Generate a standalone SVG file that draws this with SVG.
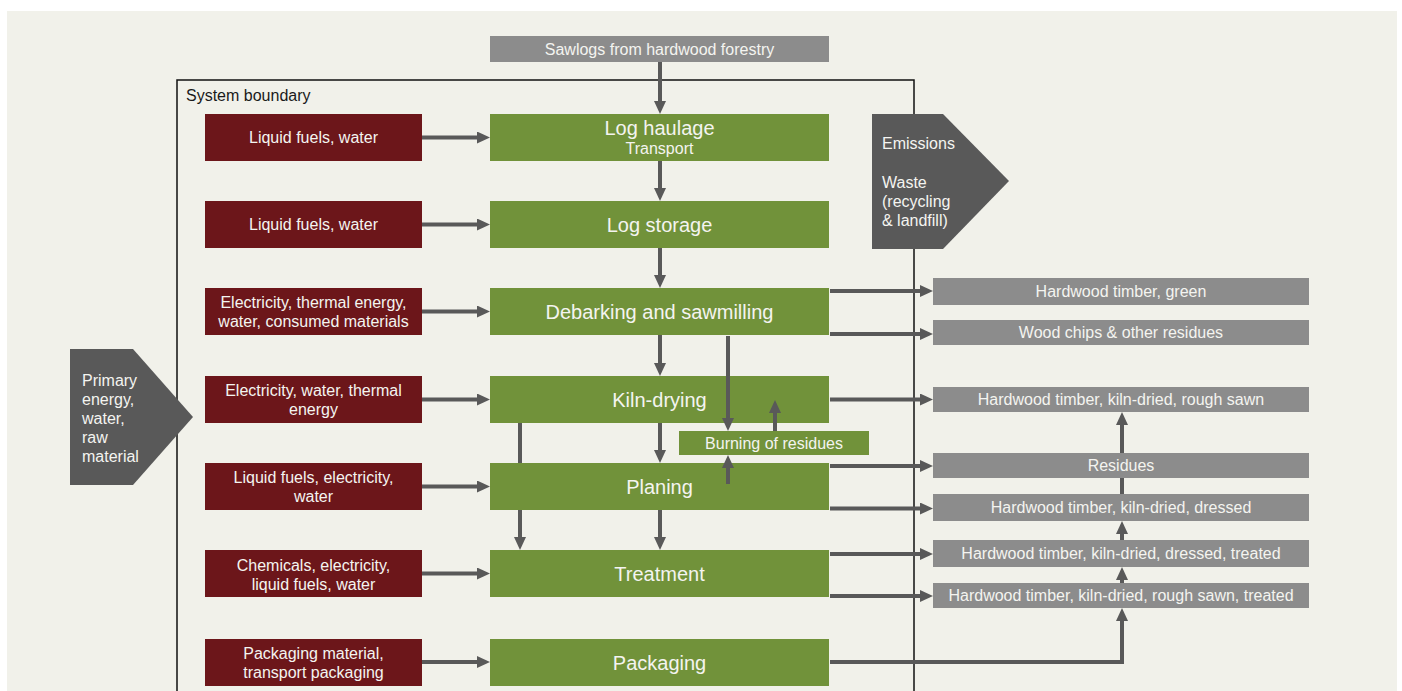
<svg xmlns="http://www.w3.org/2000/svg" width="1402" height="691" viewBox="0 0 1402 691">
<defs>
<style>
text{font-family:"Liberation Sans",Arial,sans-serif;fill:#f4f4f0;text-anchor:middle}
.sm{font-size:16px}
.big{font-size:20px}
.lbl{text-anchor:start}
.red{fill:#6c161a}
.grn{fill:#71923a}
.gry{fill:#8c8c8c}
.drk{fill:#595959}
.con line,.con path{stroke:#595959;stroke-width:4;fill:none}
</style>
<marker id="ah" markerUnits="userSpaceOnUse" viewBox="0 0 13 12" markerWidth="13" markerHeight="12" refX="0" refY="6" orient="auto">
<path d="M0,0 L13,6 L0,12 Z" fill="#595959"/>
</marker>
</defs>
<rect x="0" y="0" width="1402" height="691" fill="#ffffff"/>
<rect x="7" y="11" width="1390" height="680" fill="#f1f1ea"/>

<g id="boundary">
<rect x="177" y="80" width="737" height="640" fill="none" stroke="#111" stroke-width="1.5"/>
<text class="sm lbl" x="186" y="101" style="fill:#1a1a1a">System boundary</text>
</g>

<g id="primary">
<polygon class="drk" points="70,349 133,349 193,417 133,485 70,485"/>
<text class="sm lbl" x="82" y="386">Primary</text>
<text class="sm lbl" x="82" y="405">energy,</text>
<text class="sm lbl" x="82" y="424">water,</text>
<text class="sm lbl" x="82" y="443">raw</text>
<text class="sm lbl" x="82" y="462">material</text>
</g>

<g id="emissions">
<polygon class="drk" points="872,114 943,114 1009,181 943,249 872,249"/>
<text class="sm lbl" x="882" y="149">Emissions</text>
<text class="sm lbl" x="882" y="188">Waste</text>
<text class="sm lbl" x="882" y="207">(recycling</text>
<text class="sm lbl" x="882" y="226">&amp; landfill)</text>
</g>

<g id="sawlogs">
<rect class="gry" x="490" y="36" width="339" height="26"/>
<text class="sm" x="659.5" y="55">Sawlogs from hardwood forestry</text>
</g>

<g id="in1"><rect class="red" x="205" y="114" width="217" height="47"/><text class="sm" x="313.5" y="143">Liquid fuels, water</text></g>
<g id="in2"><rect class="red" x="205" y="201" width="217" height="47"/><text class="sm" x="313.5" y="230">Liquid fuels, water</text></g>
<g id="in3"><rect class="red" x="205" y="288" width="217" height="47"/><text class="sm" x="313.5" y="308">Electricity, thermal energy,</text><text class="sm" x="313.5" y="327">water, consumed materials</text></g>
<g id="in4"><rect class="red" x="205" y="376" width="217" height="47"/><text class="sm" x="313.5" y="396">Electricity, water, thermal</text><text class="sm" x="313.5" y="415">energy</text></g>
<g id="in5"><rect class="red" x="205" y="463" width="217" height="47"/><text class="sm" x="313.5" y="483">Liquid fuels, electricity,</text><text class="sm" x="313.5" y="502">water</text></g>
<g id="in6"><rect class="red" x="205" y="550" width="217" height="47"/><text class="sm" x="313.5" y="571">Chemicals, electricity,</text><text class="sm" x="313.5" y="590">liquid fuels, water</text></g>
<g id="in7"><rect class="red" x="205" y="639" width="217" height="47"/><text class="sm" x="313.5" y="659">Packaging material,</text><text class="sm" x="313.5" y="678">transport packaging</text></g>

<g id="haulage"><rect class="grn" x="490" y="114" width="339" height="47"/><text class="big" x="659.5" y="135">Log haulage</text><text class="sm" x="659.5" y="154">Transport</text></g>
<g id="storage"><rect class="grn" x="490" y="201" width="339" height="47"/><text class="big" x="659.5" y="231.5">Log storage</text></g>
<g id="debarking"><rect class="grn" x="490" y="288" width="339" height="47"/><text class="big" x="659.5" y="318.5">Debarking and sawmilling</text></g>
<g id="kiln"><rect class="grn" x="490" y="376" width="339" height="47"/><text class="big" x="659.5" y="406.5">Kiln-drying</text></g>
<g id="planing"><rect class="grn" x="490" y="463" width="339" height="47"/><text class="big" x="659.5" y="494">Planing</text></g>
<g id="treatment"><rect class="grn" x="490" y="550" width="339" height="47"/><text class="big" x="659.5" y="581">Treatment</text></g>
<g id="packaging"><rect class="grn" x="490" y="639" width="339" height="47"/><text class="big" x="659.5" y="669.5">Packaging</text></g>
<g id="burning"><rect class="grn" x="679" y="431" width="190" height="24"/><text class="sm" x="774" y="448.5">Burning of residues</text></g>

<g id="out1"><rect class="gry" x="933" y="278" width="376" height="27"/><text class="sm" x="1121" y="297">Hardwood timber, green</text></g>
<g id="out2"><rect class="gry" x="933" y="320" width="376" height="25"/><text class="sm" x="1121" y="338">Wood chips &amp; other residues</text></g>
<g id="out3"><rect class="gry" x="933" y="387" width="376" height="25"/><text class="sm" x="1121" y="405">Hardwood timber, kiln-dried, rough sawn</text></g>
<g id="out4"><rect class="gry" x="933" y="453" width="376" height="25"/><text class="sm" x="1121" y="471">Residues</text></g>
<g id="out5"><rect class="gry" x="933" y="494" width="376" height="27"/><text class="sm" x="1121" y="513">Hardwood timber, kiln-dried, dressed</text></g>
<g id="out6"><rect class="gry" x="933" y="540" width="376" height="27"/><text class="sm" x="1121" y="559">Hardwood timber, kiln-dried, dressed, treated</text></g>
<g id="out7"><rect class="gry" x="933" y="583" width="376" height="25"/><text class="sm" x="1121" y="601">Hardwood timber, kiln-dried, rough sawn, treated</text></g>

<g id="connectors" class="con">
<line x1="422" y1="137.5" x2="477" y2="137.5" marker-end="url(#ah)"/>
<line x1="422" y1="224.5" x2="477" y2="224.5" marker-end="url(#ah)"/>
<line x1="422" y1="311.5" x2="477" y2="311.5" marker-end="url(#ah)"/>
<line x1="422" y1="399.5" x2="477" y2="399.5" marker-end="url(#ah)"/>
<line x1="422" y1="486.5" x2="477" y2="486.5" marker-end="url(#ah)"/>
<line x1="422" y1="573.5" x2="477" y2="573.5" marker-end="url(#ah)"/>
<line x1="422" y1="662" x2="477" y2="662" marker-end="url(#ah)"/>

<line x1="660" y1="62" x2="660" y2="101" marker-end="url(#ah)"/>
<line x1="660" y1="161" x2="660" y2="188" marker-end="url(#ah)"/>
<line x1="660" y1="248" x2="660" y2="275" marker-end="url(#ah)"/>
<line x1="660" y1="335" x2="660" y2="363" marker-end="url(#ah)"/>
<line x1="660" y1="423" x2="660" y2="450" marker-end="url(#ah)"/>
<line x1="660" y1="510" x2="660" y2="537" marker-end="url(#ah)"/>
<line x1="520" y1="423" x2="520" y2="463"/>
<line x1="520" y1="510" x2="520" y2="537" marker-end="url(#ah)"/>

<line x1="728" y1="336" x2="728" y2="418" marker-end="url(#ah)"/>
<line x1="775" y1="431" x2="775" y2="413" marker-end="url(#ah)"/>
<line x1="728" y1="484" x2="728" y2="468" marker-end="url(#ah)"/>

<line x1="830" y1="291" x2="920" y2="291" marker-end="url(#ah)"/>
<line x1="830" y1="334" x2="920" y2="334" marker-end="url(#ah)"/>
<line x1="830" y1="399.5" x2="920" y2="399.5" marker-end="url(#ah)"/>
<line x1="830" y1="466" x2="920" y2="466" marker-end="url(#ah)"/>
<line x1="830" y1="508.5" x2="920" y2="508.5" marker-end="url(#ah)"/>
<line x1="830" y1="554" x2="920" y2="554" marker-end="url(#ah)"/>
<line x1="830" y1="596" x2="920" y2="596" marker-end="url(#ah)"/>
<path d="M830,662 H1122 V621" marker-end="url(#ah)"/>

<line x1="1122" y1="583" x2="1122" y2="580" marker-end="url(#ah)"/>
<line x1="1122" y1="540" x2="1122" y2="534" marker-end="url(#ah)"/>
<line x1="1122" y1="494" x2="1122" y2="478"/>
<line x1="1122" y1="453" x2="1122" y2="425" marker-end="url(#ah)"/>
</g>
</svg>
